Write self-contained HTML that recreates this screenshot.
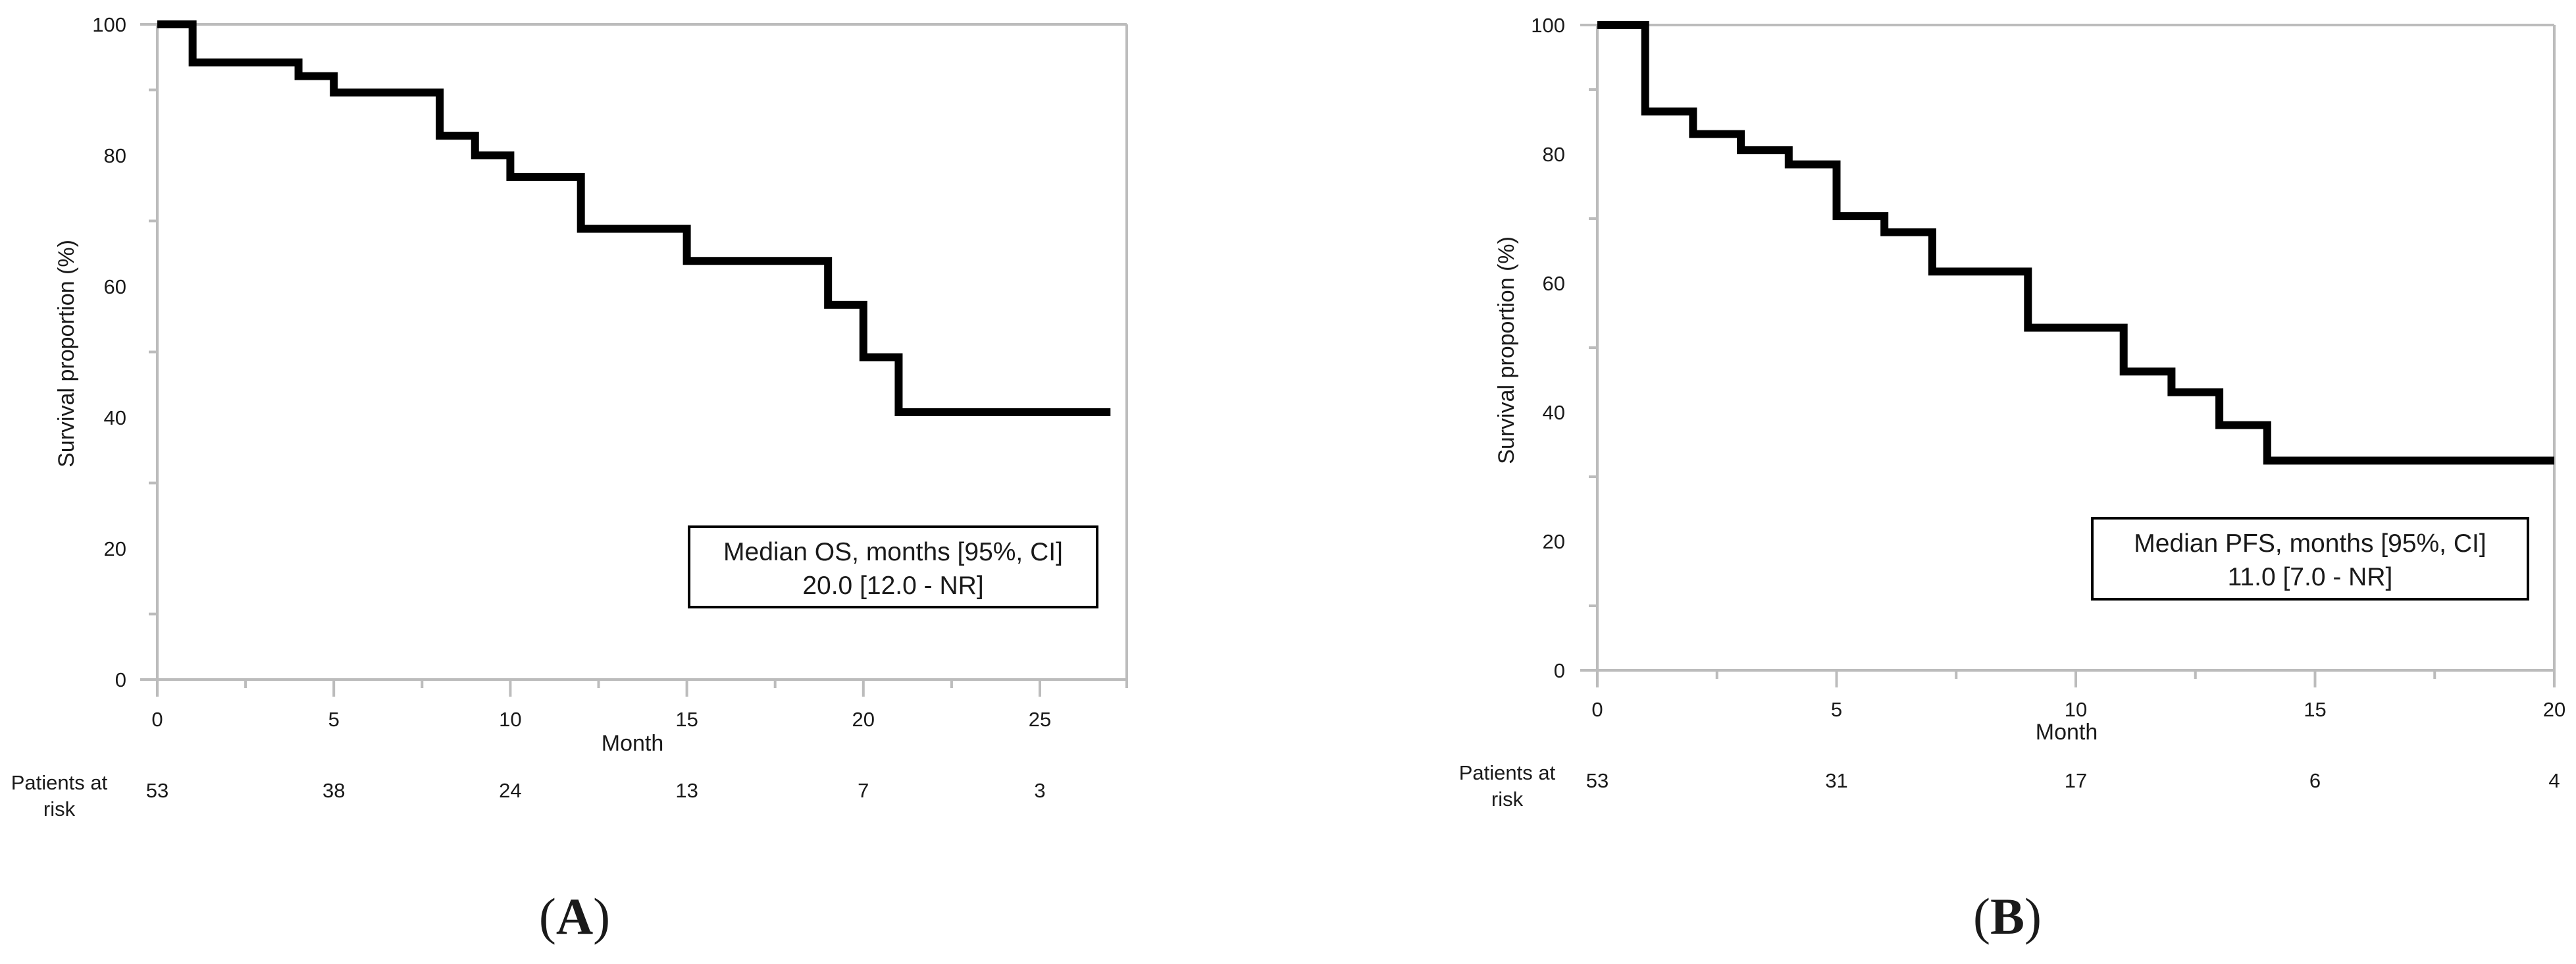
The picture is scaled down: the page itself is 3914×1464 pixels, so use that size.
<!DOCTYPE html>
<html><head><meta charset="utf-8">
<style>
html,body{margin:0;padding:0;background:#fff;}
svg{display:block;}
text{font-family:"Liberation Sans",Arial,sans-serif;fill:#1a1a1a;}
</style></head>
<body>
<svg id="fig" width="3914" height="1464" viewBox="0 0 3914 1464" xmlns="http://www.w3.org/2000/svg">
<rect width="3914" height="1464" fill="#fff"/>
</svg>
<script>
// Panel A: overall survival
const osTimes = [0, 1, 4, 5, 8, 9, 10, 12, 15, 19, 20, 21, 27];
const osSurv = [100, 94.2, 92.1, 89.6, 83.0, 80.0, 76.7, 68.8, 63.9, 57.2, 49.2, 40.8, 40.8];
const osXTicks = [0, 5, 10, 15, 20, 25];
const osAtRisk = [53, 38, 24, 13, 7, 3];
// Panel B: progression-free survival
const pfsTimes = [0, 1, 2, 3, 4, 5, 6, 7, 9, 11, 12, 13, 14, 20];
const pfsSurv = [100, 86.6, 83.1, 80.6, 78.4, 70.4, 67.9, 61.8, 53.1, 46.3, 43.1, 38.0, 32.5, 32.5];
const pfsXTicks = [0, 5, 10, 15, 20];
const pfsAtRisk = [53, 31, 17, 6, 4];
const yTicks = [0, 20, 40, 60, 80, 100];

const NS = "http://www.w3.org/2000/svg";
const svg = document.getElementById('fig');
function el(tag, attrs, parent, txt) {
  const e = document.createElementNS(NS, tag);
  for (const k in attrs) e.setAttribute(k, attrs[k]);
  if (txt !== undefined) e.textContent = txt;
  (parent || svg).appendChild(e);
  return e;
}

function panel(cfg) {
  const g = el('g', {}, svg);
  
  
  const xs = v => cfg.x0 + (v - 0) * (cfg.x1 - cfg.x0) / (cfg.xmaxTick);
  const ys = v => cfg.y0 - v * (cfg.y0 - cfg.y100) / 100;
  const gray = '#bcbcbc';
  const right = xs(cfg.xEnd);
  // frame lines
  let l = el('line', {x1: cfg.x0 - 26, y1: ys(100), x2: right, y2: ys(100), stroke: gray, 'stroke-width': 4}, g);
   
  l = el('line', {x1: cfg.x0, y1: ys(100), x2: cfg.x0, y2: ys(0) + 26, stroke: gray, 'stroke-width': 4}, g);
   
  l = el('line', {x1: cfg.x0 - 26, y1: ys(0), x2: right, y2: ys(0), stroke: gray, 'stroke-width': 4}, g);
   
  l = el('line', {x1: right, y1: ys(100), x2: right, y2: ys(0) + 13, stroke: gray, 'stroke-width': 4}, g);
   
  // y ticks
  for (let v = 10; v <= 90; v += 20) {
    const t = el('line', {x1: cfg.x0 - 13, y1: ys(v), x2: cfg.x0, y2: ys(v), stroke: gray, 'stroke-width': 4}, g);
     
  }
  yTicks.forEach(v => {
    const t = el('text', {x: cfg.yLabX, y: ys(v) + 11, 'font-size': 31, 'text-anchor': 'end'}, g, String(v));
     
  });
  // x ticks
  cfg.xTicks.forEach((v, i) => {
    const t = el('line', {x1: xs(v), y1: ys(0), x2: xs(v), y2: ys(0) + 26, stroke: gray, 'stroke-width': 4}, g);
     
    if (i < cfg.xTicks.length - 1 || xs(v + 2.5) <= right) {
      const m = el('line', {x1: xs(v + 2.5), y1: ys(0), x2: xs(v + 2.5), y2: ys(0) + 13, stroke: gray, 'stroke-width': 4}, g);
       
    }
    const tl = el('text', {x: xs(v), y: cfg.xLabY, 'font-size': 31, 'text-anchor': 'middle'}, g, String(v));
     
    const r = el('text', {x: xs(v), y: cfg.riskY, 'font-size': 31, 'text-anchor': 'middle'}, g, String(cfg.atRisk[i]));
     
  });
  // curve
  let d = 'M' + xs(cfg.times[0]) + ' ' + ys(cfg.surv[0]);
  for (let i = 1; i < cfg.times.length; i++) {
    d += ' H' + xs(cfg.times[i]) + ' V' + ys(cfg.surv[i]);
  }
  const p = el('path', {d: d, fill: 'none', stroke: '#000', 'stroke-width': 12, 'stroke-linejoin': 'miter', 'stroke-linecap': 'butt'}, g);
   
  // y label
  const yl = el('text', {x: 0, y: 0, 'font-size': 34, 'text-anchor': 'middle', transform: `translate(${cfg.yTitleX},${cfg.yTitleY}) rotate(-90)`}, g, 'Survival proportion (%)');
   
  // month
  const mt = el('text', {x: cfg.monthX, y: cfg.monthY, 'font-size': 34, 'text-anchor': 'middle'}, g, 'Month');
   
  // patients at risk label
  const pa = el('text', {x: cfg.patX, y: cfg.riskY - 12, 'font-size': 31, 'text-anchor': 'middle'}, g, 'Patients at');
   
  const pr = el('text', {x: cfg.patX, y: cfg.riskY + 28, 'font-size': 31, 'text-anchor': 'middle'}, g, 'risk');
   
  // legend box
  const bx = el('rect', {x: cfg.box[0], y: cfg.box[1], width: cfg.box[2], height: cfg.box[3], fill: '#fff', stroke: '#000', 'stroke-width': 4}, g);
   
  const cx = cfg.box[0] + cfg.box[2] / 2;
  const t1 = el('text', {x: cx, y: cfg.box[1] + 51, 'font-size': 39, 'text-anchor': 'middle'}, g, cfg.line1);
   
  const t2 = el('text', {x: cx, y: cfg.box[1] + 102, 'font-size': 39, 'text-anchor': 'middle'}, g, cfg.line2);
   
  // panel letter
  const pl = el('text', {x: cfg.letterX, y: 1418, 'font-size': 78, 'text-anchor': 'middle', style: 'font-family:"Liberation Serif",serif'}, g);
   
  el('tspan', {}, pl, '(');
  el('tspan', {'font-weight': 'bold'}, pl, cfg.letter);
  el('tspan', {}, pl, ')');
}

panel({name: 'panel-a-os', x0: 239, x1: 1580, xmaxTick: 25, xEnd: 27.46, y0: 1032, y100: 37,
  times: osTimes, surv: osSurv, xTicks: osXTicks, atRisk: osAtRisk,
  yLabX: 192, xLabY: 1103, riskY: 1211, yTitleX: 112, yTitleY: 537, monthX: 961, monthY: 1140, patX: 90,
  box: [1047, 800, 620, 122], line1: 'Median OS, months [95%, CI]', line2: '20.0 [12.0 - NR]', letterX: 873, letter: 'A'});
panel({name: 'panel-b-pfs', x0: 2427, x1: 3881, xmaxTick: 20, xEnd: 20, y0: 1018, y100: 38,
  times: pfsTimes, surv: pfsSurv, xTicks: pfsXTicks, atRisk: pfsAtRisk,
  yLabX: 2378, xLabY: 1088, riskY: 1196, yTitleX: 2300, yTitleY: 532, monthX: 3140, monthY: 1123, patX: 2290,
  box: [3179, 787, 662, 123], line1: 'Median PFS, months [95%, CI]', line2: '11.0 [7.0 - NR]', letterX: 3050, letter: 'B'});
</script>
</body></html>
